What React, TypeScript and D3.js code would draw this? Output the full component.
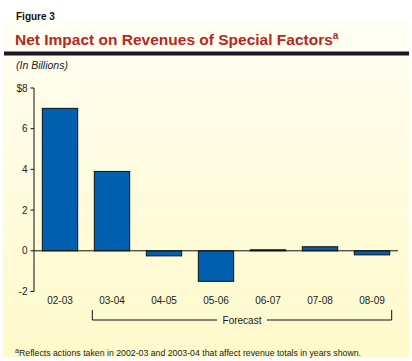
import React from 'react'
import * as d3 from 'd3'

// values (in billions)
const years = ['02-03', '03-04', '04-05', '05-06', '06-07', '07-08', '08-09']
const impact = [7.0, 3.9, -0.25, -1.5, 0.05, 0.2, -0.2]
const yTicks = [-2, 0, 2, 4, 6, 8]
const forecastYears = ['03-04', '08-09']

const W = 412
const H = 361
const font = '"Liberation Sans", Arial, Helvetica, sans-serif'

export default function App() {
  const margin = {left: 34, right: 14, top: 88, bottom: 69}

  const x = d3.scaleBand<string>()
    .domain(years)
    .range([margin.left, W - margin.right])
    .paddingInner(0.32)
    .paddingOuter(0.16)

  const y = d3.scaleLinear()
    .domain([-2, 8])
    .range([H - margin.bottom - 0.5, margin.top])

  const y0 = y(0)
  const yFmt = (d: number) => (d === 8 ? '$8' : String(d))

  // forecast bracket spans 03-04 .. 08-09
  const bx0 = (x(forecastYears[0]) ?? 0) - 2
  const bx1 = (x(forecastYears[1]) ?? 0) + x.bandwidth() + 2
  const bTop = 310
  const bY = 320
  const bMid = (bx0 + bx1) / 2

  return (
    <svg width={W} height={H} style={{display: 'block', position: 'absolute', left: 0, top: 0}}>
      <defs>
        <linearGradient id="bg" x1="0" y1="0" x2="0" y2="1">
          <stop offset="0%" stopColor="#fffef4" />
          <stop offset="20%" stopColor="#fffdea" />
          <stop offset="100%" stopColor="#fefacb" />
        </linearGradient>
      </defs>
      <rect x={0} y={0} width={W} height={H} fill="#fff" />
      <rect x={3} y={19} width={406} height={338} fill="url(#bg)" />

      <text x={16} y={20} fontFamily={font} fontSize={10} fontWeight="bold" fill="#111">Figure 3</text>
      <text x={15} y={44.5} fontFamily={font} fontSize={15.5} fontWeight="bold" fill="#b3291f">
        Net Impact on Revenues of Special Factors
        <tspan fontSize={10} dy={-6}>a</tspan>
      </text>
      <rect x={4} y={51.5} width={405} height={4} fill="#1c1626" />
      <text x={16} y={68.5} fontFamily={font} fontSize={10.5} fontStyle="italic" fill="#222">(In Billions)</text>

      {/* bars */}
      {years.map((yr, i) => {
        const v = impact[i]
        const top = Math.min(y(v), y0)
        const h = Math.max(Math.abs(y(v) - y0), 1)
        return (
          <rect key={yr} x={x(yr)} y={top} width={x.bandwidth()} height={h}
            fill="#0060b0" stroke="#111" strokeWidth={1} />
        )
      })}

      {/* zero line */}
      <line x1={margin.left} x2={W - margin.right} y1={y0} y2={y0} stroke="#111" strokeWidth={1} />

      {/* y axis */}
      <line x1={margin.left} x2={margin.left} y1={y(8)} y2={y(-2)} stroke="#111" strokeWidth={1} />
      {yTicks.map(t => (
        <g key={t}>
          <line x1={margin.left - 3.5} x2={margin.left} y1={y(t)} y2={y(t)} stroke="#111" strokeWidth={1} />
          <text x={27.5} y={y(t) + 3.5} textAnchor="end" fontFamily={font} fontSize={10} fill="#222">{yFmt(t)}</text>
        </g>
      ))}

      {/* x labels */}
      {years.map(yr => (
        <text key={yr} x={(x(yr) ?? 0) + x.bandwidth() / 2} y={303.5} textAnchor="middle"
          fontFamily={font} fontSize={10} fill="#222">{yr}</text>
      ))}

      {/* forecast bracket */}
      <path d={`M${bx0},${bTop}V${bY}H${bMid - 25}M${bMid + 25},${bY}H${bx1}V${bTop}`}
        fill="none" stroke="#111" strokeWidth={1} />
      <text x={bMid} y={bY + 3.5} textAnchor="middle" fontFamily={font} fontSize={10} fill="#222">Forecast</text>

      <text x={15} y={356} fontFamily={font} fontSize={7} fill="#222" dy={-3.5}>a</text>
      <text x={19} y={356} fontFamily={font} fontSize={9.4} fill="#222" textLength={342} lengthAdjust="spacingAndGlyphs">
        Reflects actions taken in 2002-03 and 2003-04 that affect revenue totals in years shown.
      </text>
    </svg>
  )
}
